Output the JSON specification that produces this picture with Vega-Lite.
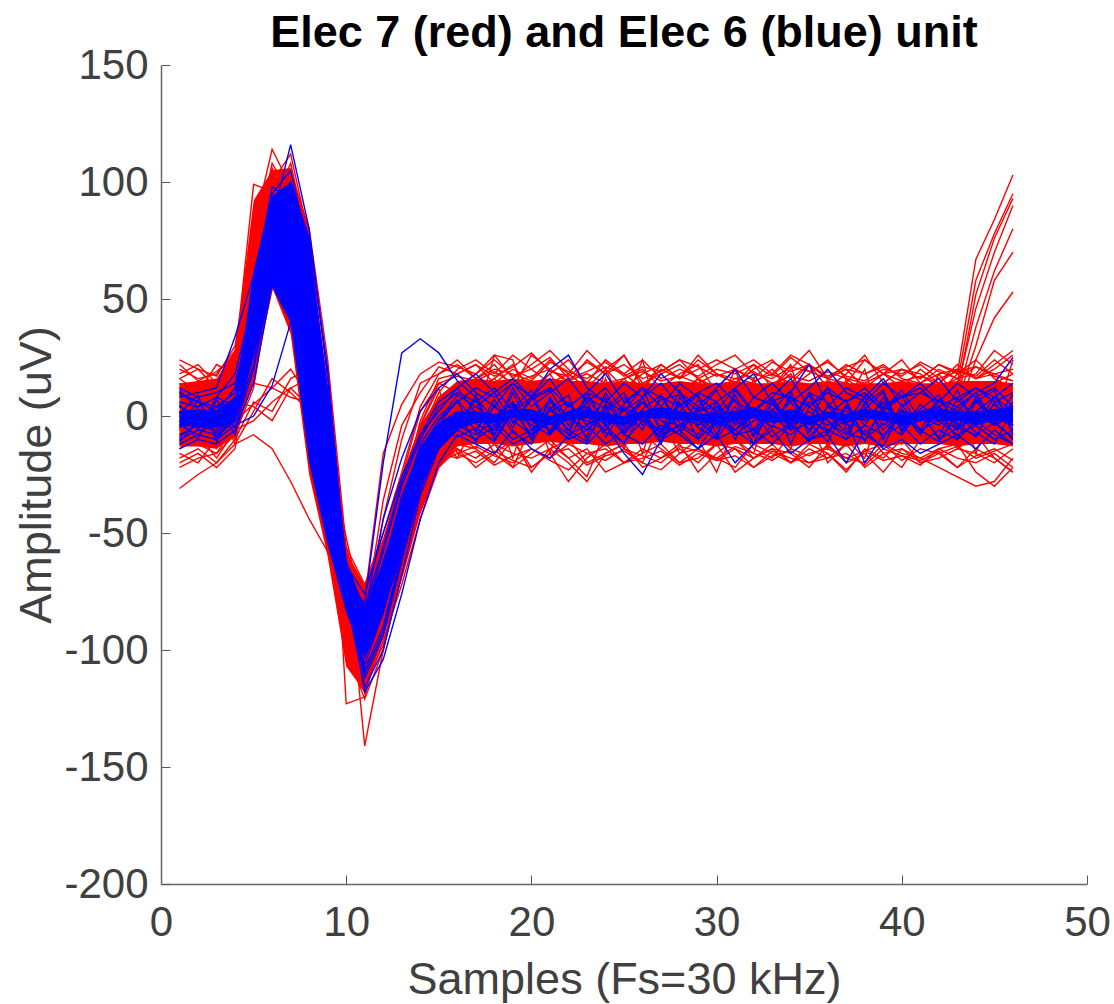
{"$schema":"https://vega.github.io/schema/vega-lite/v6.json","width":926,"height":819,"autosize":"none","padding":{"left":161,"top":65,"right":27,"bottom":120},"background":"white","title":{"text":"Elec 7 (red) and Elec 6 (blue) unit","font":"Liberation Sans","fontWeight":"bold","fontSize":45,"color":"#000000","anchor":"middle","offset":-12},"datasets":{"redband":[{"x":1,"lo":-13,"hi":14},{"x":2,"lo":-13,"hi":15},{"x":3,"lo":-14,"hi":16},{"x":4,"lo":-9,"hi":28},{"x":5,"lo":15,"hi":92},{"x":6,"lo":55,"hi":105},{"x":7,"lo":35,"hi":106},{"x":8,"lo":-25,"hi":80},{"x":9,"lo":-60,"hi":8},{"x":10,"lo":-107,"hi":-58},{"x":11,"lo":-118,"hi":-72},{"x":12,"lo":-95,"hi":-52},{"x":13,"lo":-70,"hi":-25},{"x":14,"lo":-42,"hi":-4},{"x":15,"lo":-22,"hi":8},{"x":16,"lo":-13,"hi":15},{"x":17,"lo":-12,"hi":16},{"x":18,"lo":-12,"hi":15},{"x":19,"lo":-13,"hi":16},{"x":20,"lo":-12,"hi":15},{"x":21,"lo":-11,"hi":16},{"x":22,"lo":-12,"hi":15},{"x":23,"lo":-12,"hi":15},{"x":24,"lo":-13,"hi":14},{"x":25,"lo":-12,"hi":15},{"x":26,"lo":-12,"hi":14},{"x":27,"lo":-11,"hi":14},{"x":28,"lo":-12,"hi":15},{"x":29,"lo":-12,"hi":14},{"x":30,"lo":-13,"hi":14},{"x":31,"lo":-12,"hi":15},{"x":32,"lo":-12,"hi":14},{"x":33,"lo":-12,"hi":14},{"x":34,"lo":-13,"hi":15},{"x":35,"lo":-12,"hi":14},{"x":36,"lo":-12,"hi":15},{"x":37,"lo":-13,"hi":14},{"x":38,"lo":-12,"hi":14},{"x":39,"lo":-13,"hi":14},{"x":40,"lo":-12,"hi":15},{"x":41,"lo":-12,"hi":14},{"x":42,"lo":-12,"hi":14},{"x":43,"lo":-13,"hi":15},{"x":44,"lo":-12,"hi":15},{"x":45,"lo":-12,"hi":15},{"x":46,"lo":-13,"hi":14}],"blueband":[{"x":1,"lo":-4,"hi":2},{"x":2,"lo":-5,"hi":3},{"x":3,"lo":-5,"hi":2},{"x":4,"lo":-3,"hi":8},{"x":5,"lo":25,"hi":62},{"x":6,"lo":55,"hi":94},{"x":7,"lo":40,"hi":100},{"x":8,"lo":-20,"hi":76},{"x":9,"lo":-55,"hi":5},{"x":10,"lo":-84,"hi":-63},{"x":11,"lo":-104,"hi":-82},{"x":12,"lo":-85,"hi":-62},{"x":13,"lo":-58,"hi":-36},{"x":14,"lo":-30,"hi":-13},{"x":15,"lo":-14,"hi":-3},{"x":16,"lo":-6,"hi":2},{"x":17,"lo":-3,"hi":2},{"x":18,"lo":-3,"hi":1},{"x":19,"lo":-1,"hi":3},{"x":20,"lo":-2,"hi":3},{"x":21,"lo":-4,"hi":0},{"x":22,"lo":-2,"hi":2},{"x":23,"lo":-1,"hi":3},{"x":24,"lo":-3,"hi":1},{"x":25,"lo":-4,"hi":0},{"x":26,"lo":-1,"hi":2},{"x":27,"lo":-1,"hi":4},{"x":28,"lo":-2,"hi":2},{"x":29,"lo":-2,"hi":1},{"x":30,"lo":-4,"hi":1},{"x":31,"lo":-2,"hi":2},{"x":32,"lo":-1,"hi":4},{"x":33,"lo":-3,"hi":1},{"x":34,"lo":-2,"hi":3},{"x":35,"lo":-4,"hi":0},{"x":36,"lo":-1,"hi":2},{"x":37,"lo":-3,"hi":1},{"x":38,"lo":-1,"hi":3},{"x":39,"lo":-2,"hi":2},{"x":40,"lo":-4,"hi":1},{"x":41,"lo":-2,"hi":2},{"x":42,"lo":-2,"hi":3},{"x":43,"lo":-2,"hi":2},{"x":44,"lo":-4,"hi":2},{"x":45,"lo":-2,"hi":3},{"x":46,"lo":-3,"hi":4}]},"data":{"values":[
{"s":"r1","c":"r","y":[24,20,17,30,80,114,98,60,5,-58,-80,-55,-28,-8,10,20,24,18,26,20,14,18,28,20,12,18,22,16,20,24,20,15,18,26,22,16,20,18,22,16,14,18,20,16,22,28]},
{"s":"r2","c":"r","y":[-31,-25,-20,-12,-8,-14,-28,-44,-58,-68,-92,-70,-44,-26,-14,-10,-6,-12,-16,-18,-14,-10,-20,-16,-12,-8,-14,-20,-18,-12,-14,-18,-12,-20,-16,-14,-18,-20,-12,-16,-18,-14,-12,-24,-30,-22]},
{"s":"r3","c":"r","y":[10,12,8,20,60,100,112,76,18,-60,-141,-100,-62,-34,-10,6,12,16,22,10,18,24,14,8,16,20,12,18,22,10,16,14,20,12,18,24,16,10,14,20,18,12,16,10,14,18]},
{"s":"r4","c":"r","y":[-8,-12,-16,-4,30,90,108,72,10,-123,-120,-90,-60,-36,-18,-12,-14,-20,-10,-22,-16,-28,-18,-12,-20,-14,-18,-12,-24,-16,-10,-18,-14,-20,-12,-16,-24,-14,-18,-10,-20,-16,-22,-14,-18,-24]},
{"s":"r5","c":"r","y":[18,22,14,24,99,96,70,30,-25,-80,-114,-80,-52,-26,-4,12,18,26,16,22,28,20,14,24,18,12,22,16,26,18,14,20,24,16,22,12,18,26,14,20,16,22,18,24,16,12]},
{"s":"r6","c":"r","y":[-18,-14,-20,-10,22,68,88,50,-15,-90,-116,-92,-66,-40,-20,-14,-18,-12,-22,-16,-10,-18,-14,-24,-20,-16,-12,-20,-14,-18,-22,-12,-16,-20,-14,-18,-12,-22,-16,-14,-20,-18,-14,-16,-20,-14]},
{"s":"r7","c":"r","y":[20,16,18,28,72,104,90,48,-10,-70,-104,-72,-34,-2,16,18,22,14,20,16,24,18,12,20,26,14,18,22,16,12,20,24,18,14,22,16,20,12,18,24,14,20,16,18,28,22]},
{"s":"r8","c":"r","y":[-14,-8,-18,-6,-2,6,12,4,-12,-52,-88,-70,-40,-20,-8,4,-6,10,-12,6,-16,8,-10,12,-14,4,-8,14,-12,6,-10,-16,8,-6,12,-14,6,-10,14,-8,4,-12,10,-16,6,-10]},
{"s":"r9","c":"r","y":[6,-4,2,-10,6,2,16,20,-30,-64,-82,-64,-30,-12,4,-8,-14,4,-18,8,-6,-12,14,-10,6,-16,8,-4,-12,10,-8,16,-6,-14,4,10,-10,-18,6,-12,8,-4,12,-10,-6,4]},
{"s":"r10","c":"r","y":[14,-2,-12,4,14,12,8,6,-24,-72,-100,-78,-50,-30,-12,-2,10,-4,14,-8,12,2,-10,16,-6,10,-2,-12,8,14,-4,10,-8,12,2,-10,16,-4,8,-6,12,-2,10,-8,14,-4]},
{"s":"r11","c":"r","y":[-20,-16,-22,-14,40,78,60,20,-40,-105,-118,-96,-72,-44,-22,-14,-22,-16,-10,-24,-14,-20,-28,-16,-12,-22,-18,-14,-20,-12,-24,-18,-14,-16,-22,-12,-20,-16,-24,-14,-18,-22,-26,-30,-28,-18]},
{"s":"r12","c":"r","y":[-4,6,10,22,66,98,104,80,24,-56,-72,-50,-24,4,18,24,16,22,12,26,20,14,24,18,26,12,20,16,24,18,14,22,12,20,28,16,14,24,18,12,20,14,22,16,20,26]},
{"s":"r13","c":"r","y":[8,12,4,10,48,92,100,64,4,-66,-96,-60,-32,-10,8,14,10,16,8,12,18,6,14,10,16,8,12,6,16,10,14,8,12,18,6,10,14,8,12,6,8,10,18,67,84,103]},
{"s":"r14","c":"r","y":[-6,2,-8,6,36,84,92,56,-6,-76,-108,-76,-46,-20,-2,6,-4,8,-6,4,-2,10,-8,6,2,-6,8,-2,4,-8,6,2,-6,8,-4,2,-6,8,-2,4,6,8,14,58,78,95]},
{"s":"r15","c":"r","y":[2,-6,4,8,44,88,96,60,0,-74,-102,-68,-40,-16,2,8,2,-6,8,-4,6,-2,4,-8,6,2,-4,6,-6,8,2,-4,6,-2,4,-6,8,2,-4,6,4,2,10,52,76,93]},
{"s":"r16","c":"r","y":[12,8,10,14,52,94,88,52,-8,-78,-110,-84,-56,-28,-10,4,10,2,12,6,-2,10,4,12,-2,8,2,10,6,-4,12,4,8,2,10,6,-2,8,12,4,6,4,12,46,70,90]},
{"s":"r17","c":"r","y":[-2,4,-6,2,32,76,84,44,-18,-82,-106,-82,-54,-24,-6,2,6,-4,4,8,-8,2,6,-2,8,-6,4,2,-4,6,-8,4,2,8,-6,4,-2,6,-4,2,4,6,8,38,62,80]},
{"s":"r18","c":"r","y":[4,-2,6,12,56,96,92,58,2,-72,-98,-66,-36,-14,4,10,4,12,-2,6,10,-4,8,2,-6,10,4,-2,8,6,-4,10,2,6,-2,8,4,-6,2,10,6,4,6,30,58,70]},
{"s":"r19","c":"r","y":[-10,-6,-2,4,26,62,78,40,-20,-86,-112,-88,-58,-32,-14,-4,-8,-2,-10,-4,-6,-12,-2,-8,-4,-10,-6,-2,-10,-4,-8,-12,-4,-6,-2,-10,-6,-4,-8,-2,-6,-4,2,24,42,53]},
{"s":"r20","c":"r","y":[16,10,22,18,62,106,86,46,-14,-68,-90,-58,-26,2,14,10,-2,26,24,-2,6,14,-6,20,4,24,-4,10,16,2,20,-2,12,22,-4,16,6,20,-6,14,2,18,8,4,-2,24]},
{"s":"r21","c":"r","y":[-16,-20,-10,-4,18,54,68,32,-28,-94,-115,-98,-64,-36,-16,-18,-2,-16,-22,-4,-12,-18,-26,-6,-14,-20,-2,-16,-10,-24,-4,-14,-18,-8,-2,-20,-12,-6,-16,-22,-10,-4,-14,-8,-18,-24]},
{"s":"r22","c":"r","y":[4,8,2,10,84,101,84,48,-12,-62,-78,-16,5,18,23,21,18,24,17,20,25,16,19,23,17,21,19,24,16,20,18,22,17,25,19,16,22,18,21,17,23,19,16,21,18,20]},
{"s":"r23","c":"r","y":[-12,-6,-14,-2,5,12,20,8,-20,-60,-86,-36,-4,10,21,18,22,17,21,27,19,17,23,18,22,16,19,24,21,17,20,16,23,19,22,17,21,24,18,20,16,22,19,17,24,18]},
{"s":"r24","c":"r","y":[10,-8,6,-12,2,16,10,2,-26,-66,-90,-44,-10,14,18,22,16,20,18,15,23,19,16,21,18,24,16,20,17,22,26,18,16,21,19,23,17,15,20,18,22,16,19,21,17,15]},
{"s":"r25","c":"r","y":[-6,10,-2,6,4,-2,12,16,-18,-56,-84,-60,-28,-4,12,-16,-20,-15,-19,-22,-16,-14,-21,-17,-15,-20,-23,-16,-14,-19,-17,-22,-15,-18,-20,-16,-23,-15,-19,-17,-21,-14,-18,-20,-16,-22]},
{"s":"r26","c":"r","y":[16,20,12,16,70,108,94,70,12,-60,-76,-62,-38,-14,-8,-18,-15,-21,-17,-14,-19,-23,-16,-14,-20,-18,-15,-21,-16,-19,-14,-22,-17,-15,-20,-18,-16,-21,-14,-17,-19,-15,-22,-17,-14,-19]},
{"s":"r27","c":"r","y":[-22,-18,-16,-8,12,60,76,36,-32,-100,-121,-100,-68,-38,-20,-16,-13,-17,-20,-14,-18,-12,-16,-19,-14,-17,-20,-13,-15,-18,-13,-16,-19,-14,-17,-13,-18,-15,-12,-19,-14,-16,-13,-18,-15,-12]},
{"s":"r28","c":"r","y":[22,15,19,26,76,100,102,66,6,-62,-84,-58,-30,-4,14,17,15,19,14,17,20,15,18,14,16,19,15,17,14,18,16,19,14,17,15,19,16,14,18,15,17,14,20,16,18,15]},
{"s":"b13","c":"b","y":[9,6,2,12,48,88,98,68,4,-68,-92,-70,-42,-16,-2,9,4,10,-3,7,11,-2,8,3,10,-4,7,9,2,11,-3,8,5,-2,10,6,-4,9,3,11,-2,7,4,10,-3,9]},
{"s":"b14","c":"b","y":[-9,-3,-7,-1,30,68,86,64,-2,-72,-96,-76,-48,-20,-6,-9,-5,-11,2,-8,-3,-10,4,-7,-11,-2,-9,-4,3,-10,-6,2,-9,-3,-11,1,-7,-10,-3,-8,2,-10,-5,-8,-3,-9]},
{"s":"b15","c":"b","y":[5,-6,8,4,40,78,92,58,0,-68,-88,-62,-38,-12,0,6,-7,7,-5,9,-8,5,-4,8,-7,3,9,-6,7,-5,4,-8,6,-3,9,-7,5,-4,8,-6,3,9,-5,7,-4,6]},
{"s":"b16","c":"b","y":[-5,7,-9,-2,28,62,84,70,-8,-74,-108,-90,-58,-28,-10,-3,7,-8,5,-10,8,-4,6,-9,3,-6,9,-3,-8,6,-10,3,-5,9,-7,4,-3,8,-10,5,-6,7,-3,-9,6,-4]},
{"s":"b17","c":"b","y":[11,3,-5,6,44,82,94,72,10,-64,-82,-56,-28,-8,2,12,1,-6,12,-2,7,-8,10,-3,5,12,-6,2,9,-8,11,1,-5,8,-2,12,-6,3,10,-7,5,-2,11,-4,8,2]},
{"s":"b18","c":"b","y":[-11,-2,4,-5,20,58,78,52,-16,-76,-112,-94,-62,-32,-12,1,-11,5,-7,-12,3,-6,-11,4,-8,1,-12,5,-5,-10,2,-12,6,-6,-3,-11,4,-8,-13,3,-6,-11,1,-7,-12,3]},
{"s":"b19","c":"b","y":[1,9,-11,3,38,74,96,66,-6,-70,-94,-66,-36,-14,-4,-6,9,-10,3,11,-7,1,-9,10,-5,2,-11,8,-2,-9,9,-6,2,11,-9,0,7,-11,4,9,-7,2,-10,6,11,-8]},
{"s":"b20","c":"b","y":[-2,-10,7,-8,30,66,90,46,-18,-66,-98,-72,-46,-20,-4,7,-3,-8,10,-6,3,9,-11,5,-3,8,-7,11,-4,1,7,-9,3,-5,10,-2,-8,5,11,-6,1,-9,8,-3,5,-6]},
{"s":"b1","c":"b","y":[6,4,8,18,50,84,116,80,16,-65,-90,-64,-34,-14,-2,6,12,8,14,4,10,16,6,12,2,8,14,4,10,6,12,2,8,16,4,10,6,12,4,8,14,6,2,10,14,25]},
{"s":"b2","c":"b","y":[-12,-8,-10,-4,0,13,40,30,-15,-70,-80,-20,27,33,27,15,8,-2,6,-10,4,-6,8,-4,-12,2,-8,6,-10,4,-2,-6,8,-12,4,-2,-10,6,-4,2,-8,4,-6,8,-2,-10]},
{"s":"b3","c":"b","y":[8,10,12,34,60,95,105,70,8,-64,-76,-50,-26,-8,6,12,18,10,16,8,20,26,12,6,14,8,18,10,4,12,20,8,14,6,12,20,10,6,14,8,10,16,6,12,8,14]},
{"s":"b4","c":"b","y":[-14,-10,-12,-6,14,56,70,34,-30,-72,-118,-104,-76,-44,-20,-8,-12,-16,-6,-14,-18,-8,-12,-4,-16,-25,-10,-6,-14,-8,-20,-12,-6,-16,-10,-8,-20,-6,-14,-10,-16,-12,-8,-14,-6,-12]},
{"s":"b5","c":"b","y":[2,-2,4,6,36,72,88,50,-12,-74,-100,-74,-44,-18,-6,0,4,-2,6,-4,2,6,-4,2,8,-2,4,-6,2,6,-4,2,-2,6,-6,4,2,-2,6,-4,2,4,-2,6,0,-4]},
{"s":"b6","c":"b","y":[-8,-4,-6,0,26,64,80,60,-5,-70,-110,-92,-60,-30,-12,-4,-8,-2,-10,-6,-2,-8,-4,-12,-6,0,-8,-4,-10,-2,-6,-12,-4,-8,-2,-6,-10,-4,-8,0,-6,-2,-8,-4,-10,-6]},
{"s":"b7","c":"b","y":[12,8,10,14,46,90,100,76,20,-66,-85,-58,-30,-10,4,10,6,12,2,8,12,4,10,6,2,12,8,4,10,14,6,2,10,8,4,12,6,10,2,8,12,4,8,12,6,10]},
{"s":"b8","c":"b","y":[-4,-8,-2,4,32,76,94,66,2,-76,-96,-68,-40,-16,-4,2,-6,4,-2,-8,6,0,-6,2,-4,6,-2,-8,4,0,-6,2,8,-4,0,-8,4,-2,6,-6,0,4,-4,2,8,-2]},
{"s":"b9","c":"b","y":[4,0,2,8,42,80,90,62,-4,-80,-102,-80,-50,-24,-8,-2,2,-4,4,-2,-6,2,4,-4,0,6,-2,-4,2,4,-6,0,2,-4,6,0,-2,4,-6,2,0,-4,4,-2,2,4]},
{"s":"b10","c":"b","y":[-10,-6,-8,-2,22,60,76,44,-20,-78,-116,-100,-68,-34,-14,-6,-10,-4,-12,-8,-2,-10,-6,2,-8,-12,-4,-8,-14,-2,-8,-6,-12,-4,-10,-6,-2,-20,-8,-4,-12,-6,-10,-2,-8,-12]},
{"s":"b11","c":"b","y":[10,6,4,10,54,98,92,54,6,-62,-84,-44,-18,2,12,18,10,4,14,8,16,4,10,18,6,12,4,14,8,2,12,18,6,10,22,4,12,8,16,4,10,6,14,8,12,4]},
{"s":"b12","c":"b","y":[0,-4,-2,2,34,70,82,40,-25,-82,-106,-84,-52,-22,-10,-4,0,-6,2,-4,-8,0,-2,-6,4,-2,-6,0,-4,2,-8,-2,0,-6,2,-4,0,-8,2,-4,-2,0,-6,2,-4,0]}
]},"encoding":{"x":{"field":"x","type":"quantitative","scale":{"domain":[0,50],"nice":false},"axis":{"values":[0,10,20,30,40,50],"grid":false,"title":"Samples (Fs=30 kHz)","titleFont":"Liberation Sans","titleFontWeight":"normal","titleFontSize":45,"titleColor":"#404040","titlePadding":14,"labelFont":"Liberation Sans","labelFontSize":42,"labelColor":"#404040","labelPadding":27,"labelFlush":false,"tickSize":-9,"tickColor":"#555555","tickWidth":1,"domainColor":"#666666","domainWidth":1.5}},"y":{"field":"y","type":"quantitative","scale":{"domain":[-200,150],"nice":false},"axis":{"values":[-200,-150,-100,-50,0,50,100,150],"labelExpr":"''+datum.value","grid":false,"title":"Amplitude (uV)","titleFont":"Liberation Sans","titleFontWeight":"normal","titleFontSize":45,"titleColor":"#404040","titlePadding":4,"labelFont":"Liberation Sans","labelFontSize":42,"labelColor":"#404040","labelPadding":22,"tickSize":-9,"tickColor":"#555555","tickWidth":1,"domainColor":"#666666","domainWidth":1.5}}},"layer":[{"data":{"name":"redband"},"mark":{"type":"area","color":"#ff0000"},"encoding":{"y":{"field":"lo","type":"quantitative"},"y2":{"field":"hi"}}},{"transform":[{"flatten":["y"]},{"window":[{"op":"row_number","as":"x"}],"groupby":["s"]},{"filter":"datum.c==='r'"}],"mark":{"type":"line","color":"#ff0000","strokeWidth":1.4},"encoding":{"detail":{"field":"s"}}},{"data":{"name":"blueband"},"mark":{"type":"area","color":"#0000ff"},"encoding":{"y":{"field":"lo","type":"quantitative"},"y2":{"field":"hi"}}},{"transform":[{"flatten":["y"]},{"window":[{"op":"row_number","as":"x"}],"groupby":["s"]},{"filter":"datum.c==='b'"}],"mark":{"type":"line","color":"#0000ff","strokeWidth":1.4},"encoding":{"detail":{"field":"s"}}}],"config":{"view":{"stroke":null}}}
